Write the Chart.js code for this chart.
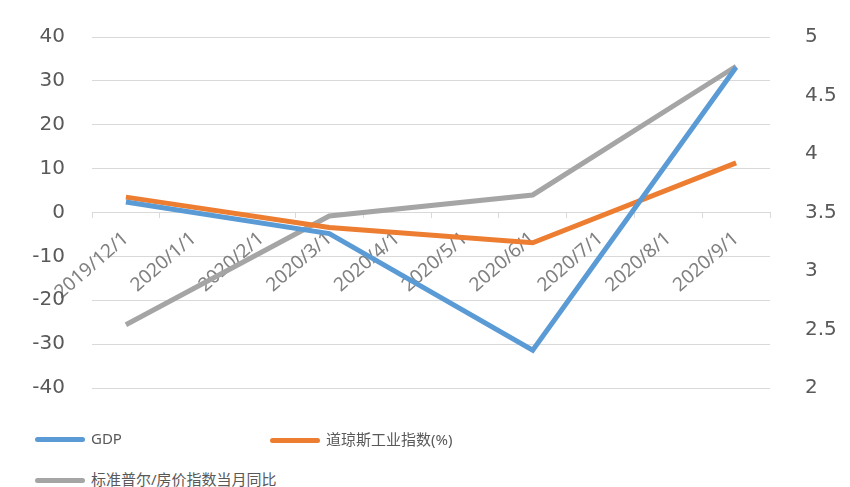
<!DOCTYPE html>
<html>
<head>
<meta charset="utf-8">
<script src="https://cdn.jsdelivr.net/npm/chart.js@4"></script>
<style>
  body { margin: 0; background: #fff; }
  #wrap { position: relative; width: 850px; height: 487px; overflow: hidden; }
  #box { position: absolute; left: 0; top: -10px; width: 850px; height: 445px; }
  .lg { position: absolute; font: 15px "Noto Sans", "Noto Sans CJK SC", sans-serif; color: #595959; }
  .lg span { display: inline-block; width: 50px; height: 5px; border-radius: 3px; vertical-align: middle; margin-right: 6px; }
</style>
</head>
<body>
<div id="wrap">
  <div id="box"><canvas id="myChart"></canvas></div>
  <div id="legend"></div>
</div>
<script>
var labels = ['2019/12/1', '2020/1/1', '2020/2/1', '2020/3/1', '2020/4/1', '2020/5/1', '2020/6/1', '2020/7/1', '2020/8/1', '2020/9/1'];
var gdp = [2.4, null, null, -4.8, null, null, -31.4, null, null, 33.1];
var dow = [3.5, null, null, -3.4, null, null, -6.9, null, null, 11.3];
var housing = [2.54, null, null, 3.47, null, null, 3.65, null, null, 4.75];
var names = ['GDP', '道琼斯工业指数(%)', '标准普尔/房价指数当月同比'];
var colors = ['#5b9bd5', '#ed7d31', '#a5a5a5'];
var leftTicks = [-40, -30, -20, -10, 0, 10, 20, 30, 40];
var rightTicks = [2, 2.5, 3, 3.5, 4, 4.5, 5];

var font = '"DejaVu Sans", sans-serif';

function line(name, values, color, axis) {
  return {
    label: name,
    data: values,
    borderColor: color,
    backgroundColor: color,
    borderWidth: 5,
    pointRadius: 0,
    spanGaps: true,
    tension: 0,
    yAxisID: axis
  };
}

var ctx = document.getElementById('myChart').getContext('2d');
var myChart = new Chart(ctx, {
  type: 'line',
  data: {
    labels: labels,
    datasets: [
      line(names[0], gdp, colors[0], 'y'),
      line(names[1], dow, colors[1], 'y'),
      line(names[2], housing, colors[2], 'y1')
    ]
  },
  options: {
    responsive: true,
    maintainAspectRatio: false,
    animation: false,
    layout: { padding: { top: 27, bottom: 23, left: 0, right: 0 } },
    plugins: { legend: { display: false }, tooltip: { enabled: false } },
    scales: {
      x: {
        position: { y: 0 },
        offset: true,
        afterFit: function(s) { s.height = 0; },
        grid: { drawOnChartArea: false, offset: true, tickLength: 5, color: '#d9d9d9' },
        border: { color: '#d9d9d9' },
        ticks: { minRotation: 41, maxRotation: 41, padding: 10, color: '#808080', font: { family: '"Noto Sans", sans-serif', size: 19 } }
      },
      y: {
        position: 'left',
        min: -40, max: 40,
        afterBuildTicks: function(s) { s.ticks = leftTicks.map(function(v) { return { value: v }; }); },
        afterFit: function(s) { s.width = 92; },
        grid: { color: '#d9d9d9', drawTicks: false },
        border: { display: false },
        ticks: { padding: 27, color: '#595959', font: { family: font, size: 20 } }
      },
      y1: {
        position: 'right',
        min: 2, max: 5,
        afterBuildTicks: function(s) { s.ticks = rightTicks.map(function(v) { return { value: v }; }); },
        afterFit: function(s) { s.width = 80; },
        grid: { drawOnChartArea: false, drawTicks: false },
        border: { display: false },
        ticks: {
          padding: 35, color: '#595959', font: { family: font, size: 20 },
          callback: function(v) { return String(v); }
        }
      }
    }
  }
});

// legend laid out like the spreadsheet one: two columns, wraps to second row
var pos = [[35, 428], [270, 428], [35, 468]];
var legend = document.getElementById('legend');
for (var i = 0; i < names.length; i++) {
  var d = document.createElement('div');
  d.className = 'lg';
  d.style.left = pos[i][0] + 'px';
  d.style.top = pos[i][1] + 'px';
  d.innerHTML = '<span style="background:' + colors[i] + '"></span>' + names[i];
  legend.appendChild(d);
}
</script>
</body>
</html>
